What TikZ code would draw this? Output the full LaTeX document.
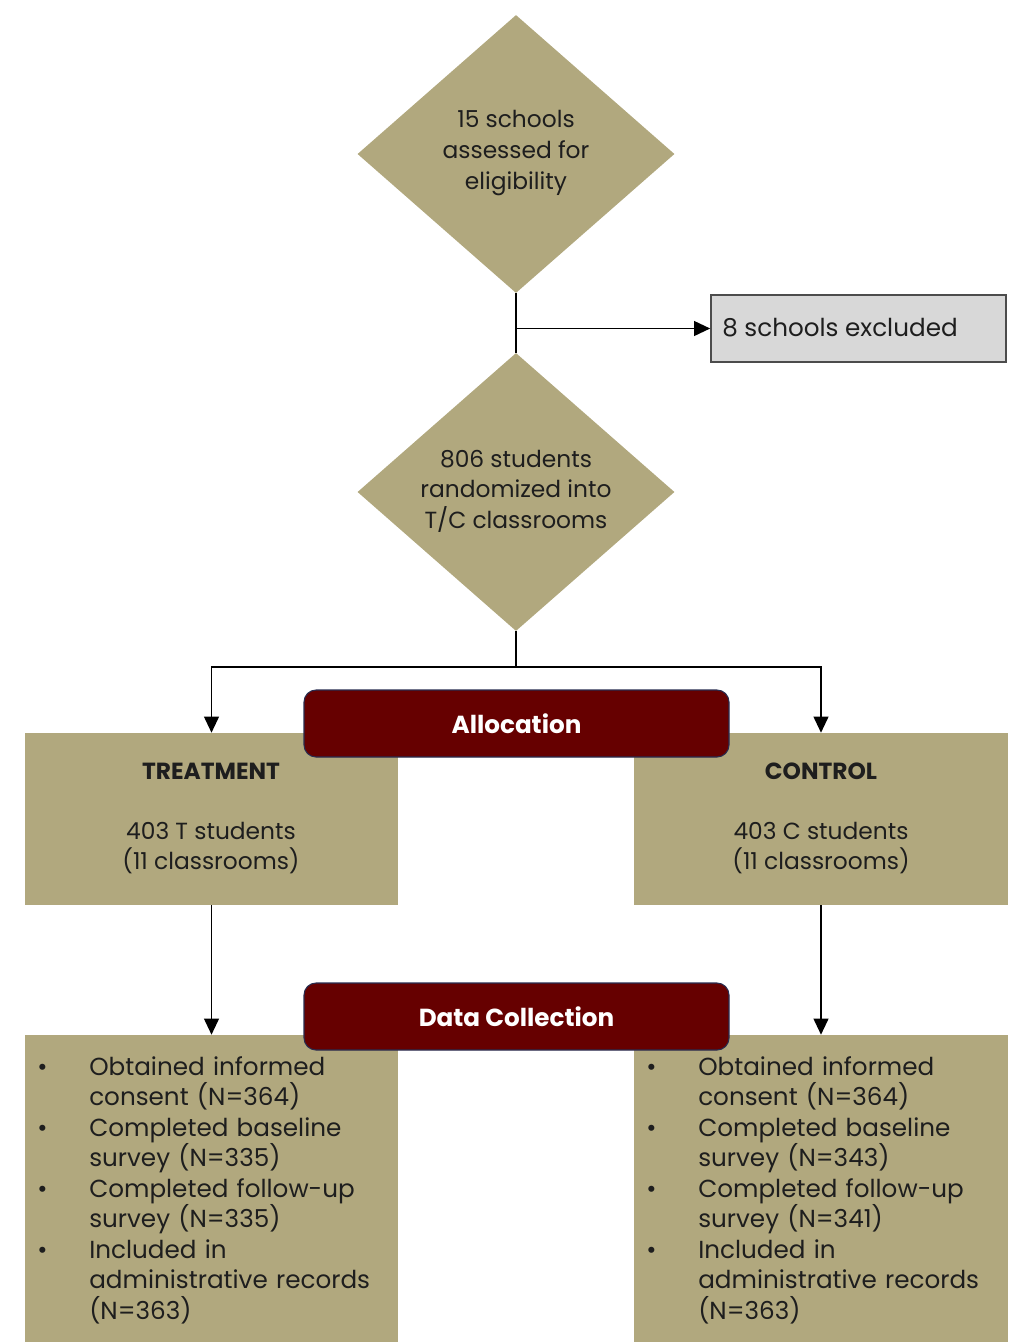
\documentclass[tikz,border=0pt]{standalone}
\usepackage{fontspec}
\setmainfont{Poppins}
\usetikzlibrary{shapes.geometric,arrows.meta,fit,calc}
\definecolor{tanc}{RGB}{177,168,126}
\definecolor{maroonc}{RGB}{102,0,0}
\definecolor{navyc}{RGB}{40,45,80}
\definecolor{txtc}{RGB}{30,30,30}
\definecolor{exgray}{RGB}{216,216,216}
\newcommand{\bl}[1]{\noindent\makebox[39pt][l]{\textbullet}#1\par}
\newcommand{\cl}[1]{\noindent\hspace*{39pt}#1\par}
\begin{document}
\begin{tikzpicture}[x=0.75pt,y=-0.75pt,
  every node/.style={text=txtc, font=\fontsize{17.5}{22.9}\selectfont},
  dia/.style={diamond, fill=tanc, inner sep=0pt, aspect=1.14, minimum width=237.75pt, minimum height=208.5pt},
  box/.style={fill=tanc, inner sep=0pt},
  banner/.style={fill=maroonc, draw=navyc, line width=0.8pt, rounded corners=9pt, inner sep=0pt},
  btext/.style={inner sep=0pt, text=white, font=\bfseries\fontsize{18.5}{20}\selectfont},
  arr/.style={-{Triangle[length=12pt,width=11pt]}, line width=1.4pt},
  conn/.style={line width=1.4pt},
  ctext/.style={align=center, inner sep=0pt},
  head/.style={inner sep=0pt, font=\bfseries\fontsize{17.5}{20}\selectfont},
  list/.style={anchor=north west, inner sep=0pt, text width=290pt, font=\fontsize{18.5}{22.9}\selectfont}
]
\useasboundingbox (0,0) rectangle (1008,1342);

% diamonds
\node[dia] (d1) at (516,154) {};
\node[ctext] (d1t) at (516,153) {15 schools\\assessed for\\eligibility};
\node[dia] (d2) at (516,492) {};
\node[ctext] (d2t) at (516,491) {806 students\\randomized into\\T/C classrooms};

% excluded
\node[fit={(711,295)(1006,362)}, inner sep=0pt, fill=exgray, draw=black!70, line width=1.2pt] (excl) {};
\node[anchor=west, inner sep=0pt, font=\fontsize{18.5}{22.9}\selectfont] (exclt) at (722,328) {8 schools excluded};

% allocation boxes
\node[box, fit={(25,733)(398,905)}] (treat) {};
\node[box, fit={(634,733)(1008,905)}] (ctrl) {};
\node[head] (treath) at (211,771) {TREATMENT};
\node[ctext] (treatt) at (211,848) {403 T students\\(11 classrooms)};
\node[head] (ctrlh) at (821,771) {CONTROL};
\node[ctext] (ctrlt) at (821,848) {403 C students\\(11 classrooms)};

% data boxes
\node[box, fit={(25,1035)(398,1342)}] (tdata) {};
\node[box, fit={(634,1035)(1008,1342)}] (cdata) {};
\node[list] (tlist) at (37,1056) {\lineskiplimit=-30pt\lineskip=0pt
\bl{Obtained informed}\cl{consent (N=364)}%
\bl{Completed baseline}\cl{survey (N=335)}%
\bl{Completed follow-up}\cl{survey (N=335)}%
\bl{Included in}\cl{administrative records}\cl{(N=363)}};
\node[list] (clist) at (646,1056) {\lineskiplimit=-30pt\lineskip=0pt
\bl{Obtained informed}\cl{consent (N=364)}%
\bl{Completed baseline}\cl{survey (N=343)}%
\bl{Completed follow-up}\cl{survey (N=341)}%
\bl{Included in}\cl{administrative records}\cl{(N=363)}};

% banners
\node[banner, fit={(304,690)(729,757)}] (alloc) {};
\node[btext] (alloct) at (alloc.center) {Allocation};
\node[banner, fit={(304,983)(729,1050)}] (datac) {};
\node[btext] (datact) at (datac.center) {Data Collection};

% connectors
\draw[conn] (d1.south) -- (d2.north);
\coordinate (br) at (d1.south |- excl.west);
\draw[arr] (br) -- (excl.west);
\coordinate (split) at (516,667);
\draw[conn] (d2.south) -- (split);
\draw[arr] (split) -| (treat.north);
\draw[arr] (split) -| (ctrl.north);
\draw[arr] (treat.south) -- (tdata.north);
\draw[arr] (ctrl.south) -- (cdata.north);
\end{tikzpicture}
\end{document}
